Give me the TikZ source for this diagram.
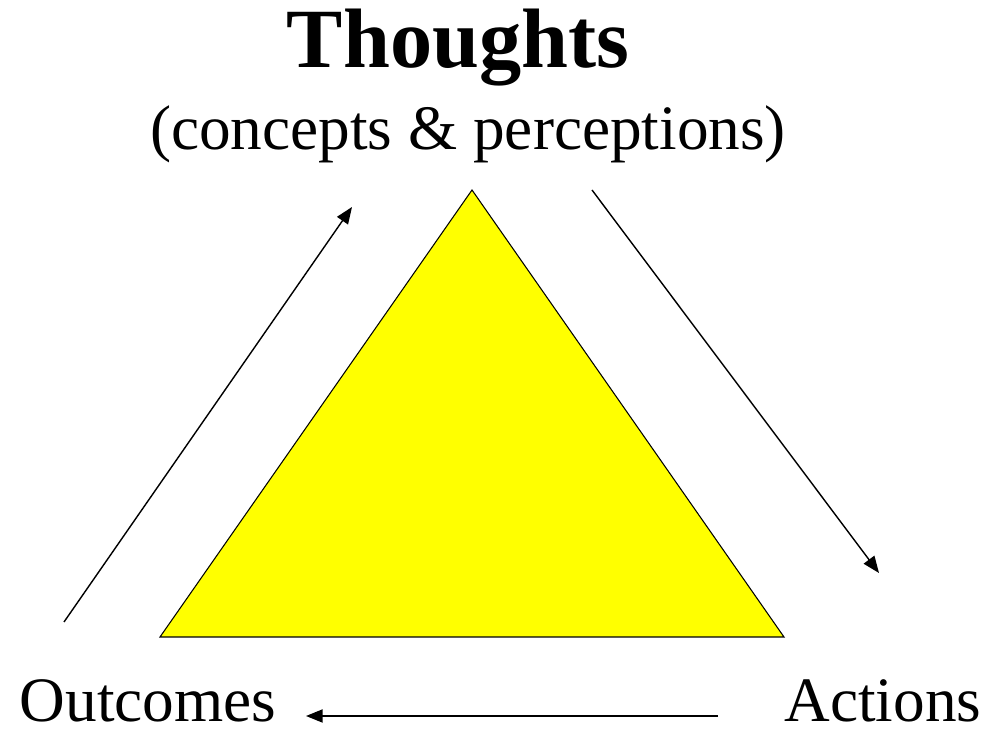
\documentclass[tikz,border=0pt]{standalone}
\usepackage{fontspec}
\setmainfont{Liberation Serif}
\usetikzlibrary{arrows.meta, positioning}
\definecolor{triyellow}{RGB}{255,255,0}

\begin{document}
\begin{tikzpicture}[x=0.02cm, y=-0.02cm,
      title/.style={anchor=base, inner sep=0pt, font=\fontsize{48}{56}\selectfont\bfseries},
      label/.style={anchor=base, inner sep=0pt, font=\fontsize{36}{42}\selectfont},
      arrow/.style={-{Triangle[length=9.5pt, width=7.5pt]}, line width=0.8pt},
      tri/.style={draw=black, line width=0.6pt, fill=triyellow}
    ]
    \useasboundingbox (0,0) rectangle (988,732);

    % text
    \node[title] (thoughts) at (458,68) {Thoughts};
    \node[label] (concepts) at (468,150) {(concepts \& perceptions)};
    \node[label] (outcomes) at (148,722) {Outcomes};
    \node[label] (actions) at (883,722) {Actions};

    % triangle
    \coordinate (top) at (472,190);
    \coordinate (left) at (160,637);
    \coordinate (right) at (784,637);
    \draw[tri] (top) -- (right) -- (left) -- cycle;

    % cycle arrows
    \coordinate (up0) at (64,622);
    \coordinate (up1) at (352,207);
    \coordinate (dn0) at (592,190);
    \coordinate (dn1) at (879,573);
    \coordinate (bk0) at (718,716);
    \coordinate (bk1) at (306,716);
    \foreach \a/\b in {up0/up1, dn0/dn1, bk0/bk1}
      \draw[arrow] (\a) -- (\b);
  \end{tikzpicture}
\end{document}
